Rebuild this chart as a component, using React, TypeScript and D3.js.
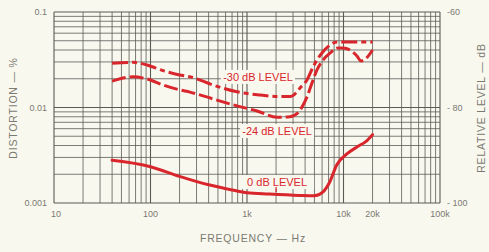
import React from "react";
import * as d3 from "d3";

// ---- data ----
const freqTicks = [10, 100, 1000, 10000, 20000, 100000];
const freqTickLabels = ["10", "100", "1k", "10k", "20k", "100k"];
const distTicks = [0.1, 0.01, 0.001];
const distTickLabels = ["0.1", "0.01", "0.001"];
const levelTicks = [-60, -80, -100];
const levelTickLabels = ["-60", "- 80", "- 100"];

const freq0 = [40, 100, 200, 400, 700, 1000, 1700, 3500, 5000, 6100, 7200, 8500, 11000, 14000, 17000, 20000];
const dist0 = [0.0028, 0.0024, 0.0019, 0.00155, 0.00137, 0.00128, 0.00124, 0.0012, 0.00119, 0.0013, 0.00166, 0.0025, 0.0033, 0.0039, 0.0044, 0.0052];

const freq24 = [40, 66, 92, 135, 200, 256, 444, 787, 1270, 2050, 2790, 3375, 3715, 4185, 4720, 5310, 6130, 7250, 8770, 9890, 11670, 13800, 15200, 17500, 20000];
const dist24 = [0.0189, 0.021, 0.0199, 0.0172, 0.0153, 0.0145, 0.0123, 0.0104, 0.0092, 0.0079, 0.008, 0.0088, 0.0101, 0.0129, 0.0181, 0.0247, 0.0314, 0.0372, 0.042, 0.042, 0.04, 0.0346, 0.0307, 0.0334, 0.04];

const freq30 = [40, 66, 92, 135, 200, 256, 444, 787, 1365, 2200, 2790, 3300, 3540, 4185, 4830, 5980, 7250, 8570, 9890, 20000];
const dist30 = [0.029, 0.0297, 0.0279, 0.0243, 0.0219, 0.021, 0.0172, 0.0146, 0.0135, 0.013, 0.013, 0.0146, 0.016, 0.0194, 0.0265, 0.0372, 0.0451, 0.0485, 0.0485, 0.0485];

const seriesLabels = ["-30 dB LEVEL", "-24 dB LEVEL", "0 dB LEVEL"];
const labelFreqs = [1300, 2050, 2050];
const labelDists = [0.0209, 0.00567, 0.00166];

const W = 489;
const H = 252;
const L = 54, R = 440, T = 12, B = 203;

export default function App() {
  const x = d3.scaleLog().domain([10, 100000]).range([L, R]);
  const y = d3.scaleLog().domain([0.001, 0.1]).range([B, T]);
  const yR = d3.scaleLinear().domain([-100, -60]).range([B, T]);

  const gridX: number[] = [];
  for (let e = 1; e < 5; e++) for (let m = 1; m <= 9; m++) gridX.push(m * Math.pow(10, e));
  gridX.push(100000);
  const gridY: number[] = [];
  for (let e = -3; e < -1; e++) for (let m = 1; m <= 9; m++) gridY.push(m * Math.pow(10, e));
  gridY.push(0.1);

  const line = d3
    .line<[number, number]>()
    .x((d) => x(d[0]))
    .y((d) => y(d[1]))
    .curve(d3.curveMonotoneX);

  const s0 = line(freq0.map((f, i) => [f, dist0[i]]) as [number, number][]) || "";
  const s24 = line(freq24.map((f, i) => [f, dist24[i]]) as [number, number][]) || "";
  const s30 = line(freq30.map((f, i) => [f, dist30[i]]) as [number, number][]) || "";

  const red = "#d8262c";
  const gridCol = "#5a5a55";
  const txt = "#7a7a72";
  const font = "'Liberation Sans', Arial, sans-serif";
  const isDecade = (v: number) => Math.abs(Math.log10(v) - Math.round(Math.log10(v))) < 1e-9;

  return (
    <svg
      width={W}
      height={H}
      viewBox={`0 0 ${W} ${H}`}
      style={{ position: "fixed", left: 0, top: 0, background: "#f9f8ef" }}
      fontFamily={font}
    >
      <rect x={0} y={0} width={W} height={H} fill="#f9f8ef" />
      {gridX.map((v, i) => (
        <line key={"gx" + i} x1={x(v)} x2={x(v)} y1={T} y2={B} stroke={gridCol} strokeWidth={isDecade(v) ? 1.1 : 0.8} />
      ))}
      {gridY.map((v, i) => (
        <line key={"gy" + i} x1={L} x2={R} y1={y(v)} y2={y(v)} stroke={gridCol} strokeWidth={isDecade(v) ? 1.1 : 0.8} />
      ))}

      {/* series labels */}
      {seriesLabels.map((t, i) => (
        <g key={"sl" + i}>
          <rect x={x(labelFreqs[i]) - 37} y={y(labelDists[i]) - 7} width={74} height={14} fill="#f9f8ef" />
          <text x={x(labelFreqs[i])} y={y(labelDists[i])} dy="0.36em" textAnchor="middle" fontSize={11} fill={red} fontWeight={500}>
            {t}
          </text>
        </g>
      ))}
      <line x1={x(2050) - 1} x2={x(2050) - 1} y1={y(0.00166) + 5} y2={y(0.00166) + 10} stroke={red} strokeWidth={1.2} />

      {/* curves */}
      <path d={s30} fill="none" stroke={red} strokeWidth={3} strokeDasharray="16,4,5,4" strokeLinecap="butt" />
      <path d={s24} fill="none" stroke={red} strokeWidth={3} strokeDasharray="14,4" strokeLinecap="butt" />
      <path d={s0} fill="none" stroke={red} strokeWidth={3} strokeLinecap="round" />

      {/* left ticks */}
      {distTicks.map((v, i) => (
        <text key={"lt" + i} x={47} y={y(v)} dy="0.35em" textAnchor="end" fontSize={9} fill={txt}>
          {distTickLabels[i]}
        </text>
      ))}
      {/* right ticks */}
      {levelTicks.map((v, i) => (
        <text key={"rt" + i} x={447} y={yR(v)} dy="0.35em" textAnchor="start" fontSize={9} fill={txt}>
          {levelTickLabels[i]}
        </text>
      ))}
      {/* bottom ticks */}
      {freqTicks.map((v, i) => (
        <text key={"bt" + i} x={x(v) + (i === 0 ? 2 : 0)} y={217} textAnchor="middle" fontSize={9} fill={txt}>
          {freqTickLabels[i]}
        </text>
      ))}

      <text x={253} y={242} textAnchor="middle" fontSize={10.5} fill={txt} letterSpacing={0.8}>
        FREQUENCY — Hz
      </text>
      <text transform={`translate(17,108) rotate(-90)`} textAnchor="middle" fontSize={10.5} fill={txt} letterSpacing={0.8}>
        DISTORTION — %
      </text>
      <text transform={`translate(485,108) rotate(-90)`} textAnchor="middle" fontSize={10.5} fill={txt} letterSpacing={0.8}>
        RELATIVE LEVEL — dB
      </text>
    </svg>
  );
}
